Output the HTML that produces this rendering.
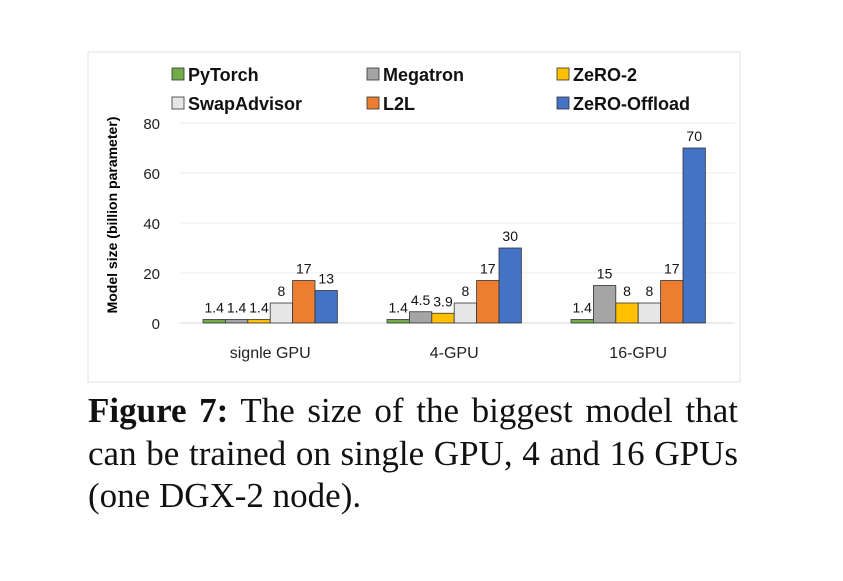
<!DOCTYPE html>
<html><head><meta charset="utf-8"><style>
body{margin:0;background:#fff;width:843px;height:581px;overflow:hidden}
svg{position:absolute;left:0;top:0}
.cap{position:absolute;left:88px;top:390px;font-family:"Liberation Serif",serif;font-size:35px;line-height:42.5px;color:#111;width:650px}
.cap div{white-space:nowrap;text-align:justify;text-align-last:justify}
.cap div.last{text-align-last:left}
</style></head><body>
<svg width="843" height="390" font-family="Liberation Sans, sans-serif">
<rect x="88" y="52" width="652" height="330" fill="#fff" stroke="#e2e2e2"/>
<g id="grid"></g><g id="bars"></g><g id="labels"></g><g id="legend"></g>
<text transform="translate(117,215) rotate(-90)" text-anchor="middle" font-size="14" font-weight="bold">Model size (billion parameter)</text>
</svg>
<div class="cap"><div><b>Figure 7:</b> The size of the biggest model that</div><div>can be trained on single GPU, 4 and 16 GPUs</div><div class="last">(one DGX-2 node).</div></div>
<script>
const categories=["signle GPU","4-GPU","16-GPU"];
const seriesNames=["PyTorch","Megatron","ZeRO-2","SwapAdvisor","L2L","ZeRO-Offload"];
const pytorch=[1.4,1.4,1.4];
const megatron=[1.4,4.5,15];
const zero2=[1.4,3.9,8];
const swapAdvisor=[8,8,8];
const l2l=[17,17,17];
const zeroOffload=[13,30,70];
const yTicks=[0,20,40,60,80];
const colors=["#70ad47","#a5a5a5","#ffc000","#e7e6e6","#ed7d31","#4472c4"];
const series=[pytorch,megatron,zero2,swapAdvisor,l2l,zeroOffload];
const NS="http://www.w3.org/2000/svg";
const y=v=>323-v*2.5;
const bw=22.4, gx=i=>203+i*184;
function mk(t,a,p){const e=document.createElementNS(NS,t);for(const k in a)e.setAttribute(k,a[k]);p.appendChild(e);return e;}
const G=document.getElementById('grid'),B=document.getElementById('bars'),L=document.getElementById('labels'),LG=document.getElementById('legend');
yTicks.forEach(t=>{
 const l=mk('line',{x1:180,x2:735,y1:y(t),y2:y(t),stroke:t===0?'#d9d9d9':'#ececec','stroke-width':1},G);
 
 
 const tx=mk('text',{x:160,y:y(t)+6,'text-anchor':'end','font-size':15,fill:'#222'},G);tx.textContent=t;
 
 
});
categories.forEach((c,ci)=>{
 const tx=mk('text',{x:gx(ci)+bw*3,y:358,'text-anchor':'middle','font-size':16,fill:'#222'},L);tx.textContent=c;
 
 
 series.forEach((s,si)=>{
  const x=gx(ci)+si*bw,v=s[ci];
  const r=mk('rect',{x:x,y:y(v),width:bw,height:y(0)-y(v),fill:colors[si],stroke:'#333','stroke-width':0.8},B);
  
  
  const t=mk('text',{x:x+bw/2,y:y(v)-7,'text-anchor':'middle','font-size':14,fill:'#111'},L);t.textContent=v;
  
  
 });
});
const lx=[172,367,557],ly=[75,104],ord=[0,1,2,3,4,5];
ord.forEach((si,k)=>{
 const x=lx[k%3],yy=ly[Math.floor(k/3)];
 const r=mk('rect',{x:x,y:yy-7,width:12,height:12,fill:colors[si],stroke:'#333','stroke-width':0.8},LG);
 
 
 const t=mk('text',{x:x+16,y:yy+6,'font-size':18,'font-weight':'bold',fill:'#111'},LG);t.textContent=seriesNames[si];
 
 
});
</script>
</body></html>
